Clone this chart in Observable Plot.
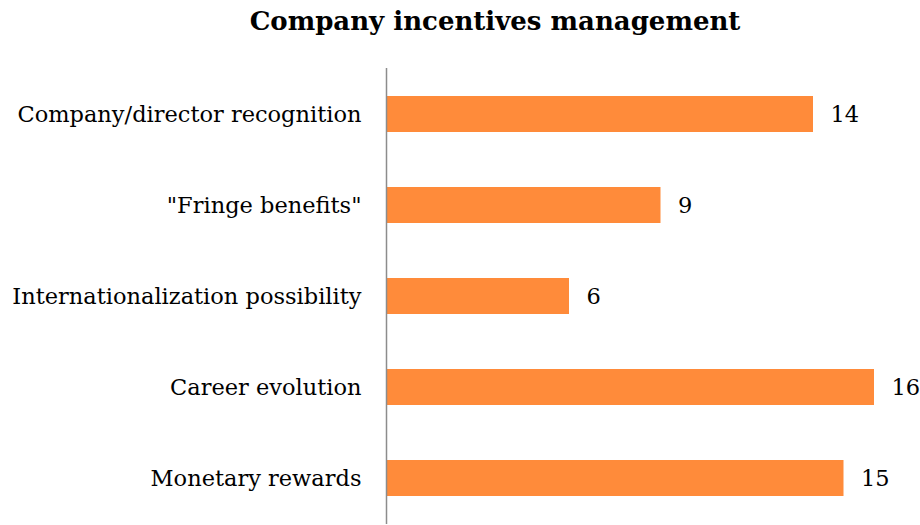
<!DOCTYPE html>
<html>
<head>
<meta charset="utf-8">
<script src="https://cdn.jsdelivr.net/npm/d3@7"></script>
<script src="https://cdn.jsdelivr.net/npm/@observablehq/plot@0.6"></script>
<style>
  html, body { margin: 0; padding: 0; background: #fff; }
  #wrap { width: 920px; height: 525px; overflow: hidden; }
  #title { height: 60px; width: 920px; text-align: center; font-family: "DejaVu Serif", serif; font-weight: bold; font-size: 26px; line-height: 42px; padding-left: 70px; box-sizing: border-box; color: #000; }
</style>
</head>
<body>
<div id="wrap">
  <div id="title">Company incentives management</div>
  <div id="chart"></div>
</div>
<script>
const categories = ["Company/director recognition", "\"Fringe benefits\"", "Internationalization possibility", "Career evolution", "Monetary rewards"];
const values = [14, 9, 6, 16, 15];

const data = categories.map((c, i) => ({category: c, value: values[i]}));

const chart = Plot.plot({
  width: 920,
  height: 465,
  marginLeft: 386,
  marginRight: 46,
  marginTop: 8,
  marginBottom: 1,
  style: { fontFamily: "DejaVu Serif, serif", fontSize: "22.5px", color: "#000", background: "#fff" },
  x: { domain: [0, 16], axis: null },
  y: { domain: categories, paddingInner: 0.6, paddingOuter: 0.3, label: null, tickSize: 0, tickPadding: 25 },
  marks: [
    Plot.barX(data, { x: "value", y: "category", fill: "#FF8B3A" }),
    Plot.ruleX([0], { stroke: "#8c8c8c", strokeWidth: 1.5 }),
    Plot.text(data, { x: "value", y: "category", text: d => String(d.value), textAnchor: "start", dx: 17, fontSize: 22.5, fill: "#000" })
  ]
});
document.getElementById("chart").appendChild(chart);
</script>
</body>
</html>
